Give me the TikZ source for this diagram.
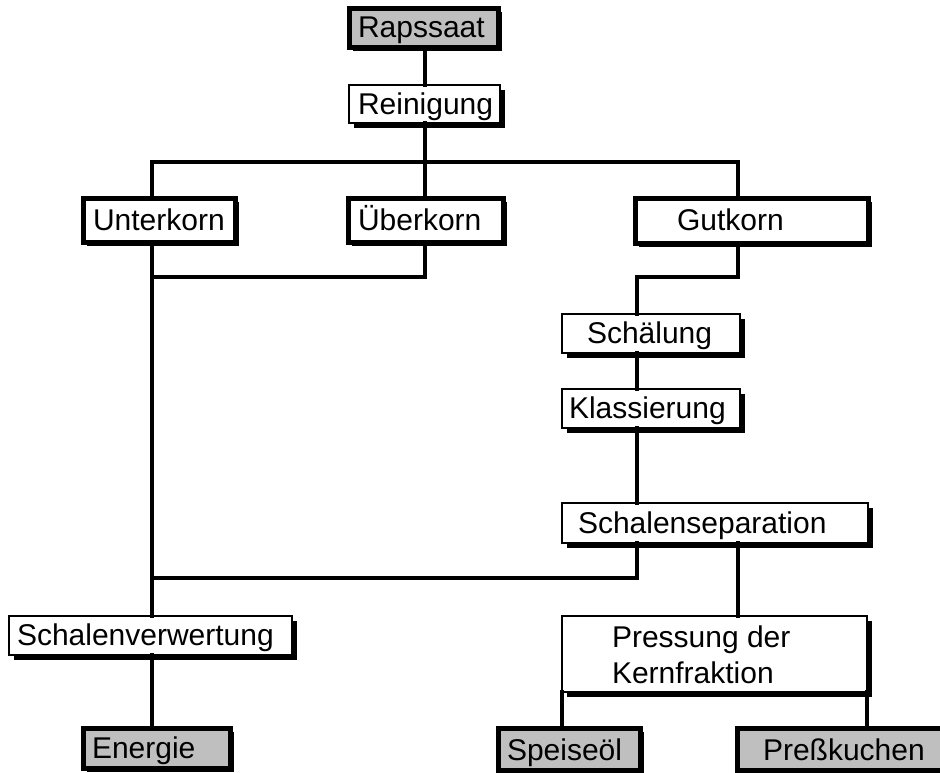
\documentclass[tikz,border=0pt]{standalone}
\usepackage{fontspec}
\setmainfont{Liberation Sans}
\usetikzlibrary{shadows}
\begin{document}
\begin{tikzpicture}[x=1pt,y=-1pt,
  every node/.style={inner sep=0pt, outer sep=0pt},
  txt/.style={anchor=base west, inner sep=0pt, font=\fontsize{30}{35}\selectfont},
  thinbox/.style={draw=black, line width=2.6pt, fill=white,
    drop shadow={fill=black, opacity=1, shadow xshift=5pt, shadow yshift=-5pt}},
  thickbox/.style={draw=black, line width=5pt, fill=white,
    drop shadow={fill=black, opacity=1, shadow xshift=4pt, shadow yshift=-4pt}},
  greybox/.style={thickbox, fill=black!25},
  conn/.style={line width=3.2pt, line cap=rect}
]
\useasboundingbox (0,0) rectangle (940,772);
\clip (0,0) rectangle (940,772);
\fill[white] (0,0) rectangle (940,772);

% boxes
\node[greybox, minimum width=149pt, minimum height=39pt,
  label={[txt, xshift=9pt, yshift=-10pt]west:Rapssaat}] (rap) at (423.5,27.5) {};
\node[thinbox, minimum width=151pt, minimum height=38pt,
  label={[txt, xshift=9pt, yshift=-10pt]west:Reinigung}] (rein) at (424.5,104) {};
\node[thickbox, minimum width=152pt, minimum height=44pt,
  label={[txt, xshift=10pt, yshift=-10pt]west:Unterkorn}] (unter) at (159,220) {};
\node[thickbox, minimum width=155pt, minimum height=44pt,
  label={[txt, xshift=10pt, yshift=-10pt]west:Überkorn}] (ueber) at (425.5,220) {};
\node[thickbox, minimum width=233pt, minimum height=45pt,
  label={[txt, xshift=42pt, yshift=-10pt]west:Gutkorn}] (gut) at (751.5,220.5) {};
\node[thinbox, minimum width=178pt, minimum height=39pt,
  label={[txt, xshift=25pt, yshift=-10pt]west:Schälung}] (schael) at (651,333.5) {};
\node[thinbox, minimum width=178pt, minimum height=39pt,
  label={[txt, xshift=7pt, yshift=-10pt]west:Klassierung}] (klass) at (651,408.5) {};
\node[thinbox, minimum width=306pt, minimum height=40pt,
  label={[txt, xshift=16pt, yshift=-10pt]west:Schalenseparation}] (sep) at (715,523) {};
\node[thinbox, minimum width=283pt, minimum height=39pt,
  label={[txt, xshift=8pt, yshift=-10pt]west:Schalenverwertung}] (verw) at (150.5,635.5) {};
\node[thinbox, minimum width=305pt, minimum height=76pt,
  label={[txt, xshift=50pt, yshift=7pt]west:Pressung der},
  label={[txt, xshift=50pt, yshift=-29pt]west:Kernfraktion}] (press) at (714.5,654) {};
\node[greybox, minimum width=147pt, minimum height=40pt,
  label={[txt, xshift=9pt, yshift=-10pt]west:Energie}] (energ) at (156.5,748) {};
\node[greybox, minimum width=142pt, minimum height=42pt,
  label={[txt, xshift=9pt, yshift=-11pt]west:Speiseöl}] (speis) at (569,749) {};
\node[greybox, minimum width=223pt, minimum height=42pt,
  label={[txt, xshift=26pt, yshift=-11pt]west:Preßkuchen}] (kuchen) at (848.5,749) {};

% connectors
\coordinate (hs) at (425,162);
\coordinate (hu) at (152,277);
\coordinate (hg) at (637,277);
\coordinate (hv) at (152,578);
\draw[conn] (rap.south -| hs) -- (rein.north -| hs);
\draw[conn] (rein.south -| hs) -- (ueber.north -| hs);
\draw[conn] (unter.north -| hu) |- (hs) -| (gut.north -| 738,0);
\draw[conn] (unter.south -| hu) -- (verw.north -| hu);
\draw[conn] (ueber.south -| hs) |- (hu);
\draw[conn] (gut.south -| 738,0) |- (hg) -- (schael.north -| hg);
\draw[conn] (schael.south -| hg) -- (klass.north -| hg);
\draw[conn] (klass.south -| hg) -- (sep.north -| hg);
\draw[conn] (sep.south -| hg) |- (hv);
\draw[conn] (sep.south -| 738,0) -- (press.north -| 738,0);
\draw[conn] (verw.south -| hu) -- (energ.north -| hu);
\draw[conn] (press.south -| 562,0) -- (speis.north -| 562,0);
\draw[conn] (press.south -| 867,0) -- (kuchen.north -| 867,0);
\end{tikzpicture}
\end{document}
